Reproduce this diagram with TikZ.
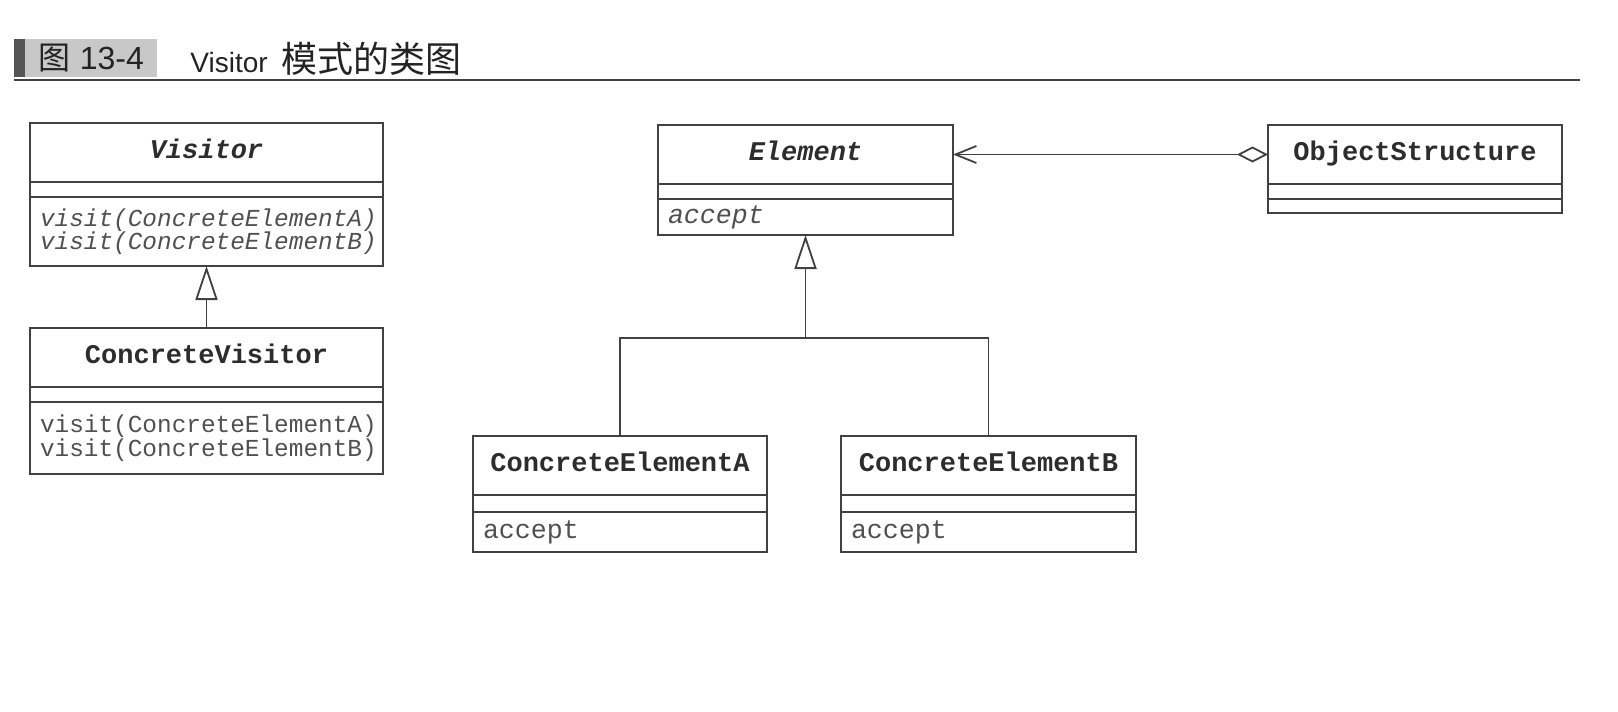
\documentclass[tikz,border=0pt]{standalone}
\usepackage{fontspec}
\setmainfont{Liberation Sans}
\newfontfamily\cjk{Noto Sans CJK SC}
\newfontfamily\umlmono{Liberation Mono}
\usetikzlibrary{positioning,arrows.meta}

\definecolor{linegray}{RGB}{65,65,65}
\definecolor{namegray}{RGB}{45,45,45}
\definecolor{titlegray}{RGB}{35,35,35}
\definecolor{opgray}{RGB}{80,80,80}
\definecolor{figgray}{RGB}{200,200,200}
\definecolor{bargray}{RGB}{85,85,85}

\newcommand\namefont{\umlmono\bfseries\fontsize{13.5pt}{14pt}\selectfont}
\newcommand\visitfont{\umlmono\fontsize{12.2pt}{11.8pt}\selectfont}
\newcommand\acceptfont{\umlmono\fontsize{13.3pt}{14pt}\selectfont}

\begin{document}
\begin{tikzpicture}[x=0.5pt,y=-0.5pt,
  box/.style={draw=linegray, line width=0.9pt, outer sep=0pt, inner sep=0pt},
  namebox/.style={box, font=\namefont, text=namegray, minimum height=29.5pt, text height=9pt, text depth=3pt},
  attrbox/.style={box, minimum height=7.5pt},
  opsbox/.style={box, align=left, inner xsep=5pt, text=opgray},
  gen/.style={draw=linegray, line width=0.9pt, -{Triangle[open,length=17pt,width=11pt]}},
  tree/.style={draw=linegray, line width=0.9pt},
  agg/.style={draw=linegray, line width=0.9pt, {Diamond[open,length=15.5pt,width=8pt]}-{Straight Barb[length=10.5pt,width=8.5pt]}}
]
\useasboundingbox (0,0) rectangle (1618,712);

% title
\fill[bargray] (14,39) rectangle (25,77);
\node (fig) [fill=figgray, anchor=west, minimum width=66pt, minimum height=19pt, inner sep=0pt,
  text=titlegray, font=\fontsize{16pt}{16pt}\selectfont] at (25,58) {{\cjk 图} 13-4};
\node (title) [anchor=west, inner sep=0pt, text=titlegray, font=\fontsize{14pt}{14pt}\selectfont] at (190,59)
  {Visitor\hspace{3pt} {\cjk\fontsize{18pt}{18pt}\selectfont 模式的类图}};
\coordinate (rule) at (1580,80);
\draw[linegray, line width=0.7pt] (fig.west |- rule) ++(-11,0) -- (rule);

% Visitor
\node (visname) [namebox, minimum width=176.5pt, anchor=north west] at (30,123) {\itshape Visitor};
\node (visattr) [attrbox, minimum width=176.5pt, below=0pt of visname] {};
\node (visops) [opsbox, text width=166.5pt, minimum height=34.5pt, below=0pt of visattr, font=\visitfont\itshape]
  {visit(ConcreteElementA)\\visit(ConcreteElementB)};

% ConcreteVisitor
\node (cvname) [namebox, minimum width=176.5pt, anchor=north west] at (30,328) {ConcreteVisitor};
\node (cvattr) [attrbox, minimum width=176.5pt, below=0pt of cvname] {};
\node (cvops) [opsbox, text width=166.5pt, minimum height=36pt, below=0pt of cvattr, font=\visitfont]
  {visit(ConcreteElementA)\\visit(ConcreteElementB)};

% Element
\node (elname) [namebox, minimum width=147.5pt, anchor=north west] at (658,125) {\itshape Element};
\node (elattr) [attrbox, minimum width=147.5pt, below=0pt of elname] {};
\node (elops) [opsbox, text width=137.5pt, minimum height=18pt, below=0pt of elattr, font=\acceptfont\itshape] {accept};

% ObjectStructure
\node (osname) [namebox, minimum width=147pt, anchor=north west] at (1268,125) {ObjectStructure};
\node (osattr) [attrbox, minimum width=147pt, below=0pt of osname] {};
\node (osops) [opsbox, text width=137pt, minimum height=7pt, below=0pt of osattr] {};

% ConcreteElementA
\node (ceaname) [namebox, minimum width=147pt, anchor=north west] at (473,436) {ConcreteElementA};
\node (ceaattr) [attrbox, minimum width=147pt, minimum height=8.5pt, below=0pt of ceaname] {};
\node (ceaops) [opsbox, text width=137pt, minimum height=20pt, below=0pt of ceaattr, font=\acceptfont] {accept};

% ConcreteElementB
\node (cebname) [namebox, minimum width=147.5pt, anchor=north west] at (841,436) {ConcreteElementB};
\node (cebattr) [attrbox, minimum width=147.5pt, minimum height=8.5pt, below=0pt of cebname] {};
\node (cebops) [opsbox, text width=137.5pt, minimum height=20pt, below=0pt of cebattr, font=\acceptfont] {accept};

% connectors
\draw[gen] (cvname.north) -- (visops.south);
\coordinate (bus) at (806,338);
\draw[tree] (ceaname.north) |- (cebname.north |- bus) -- (cebname.north);
\draw[gen] (elops.south |- bus) -- (elops.south);
\draw[agg] (osname.west) -- (elname.east);
\end{tikzpicture}
\end{document}
